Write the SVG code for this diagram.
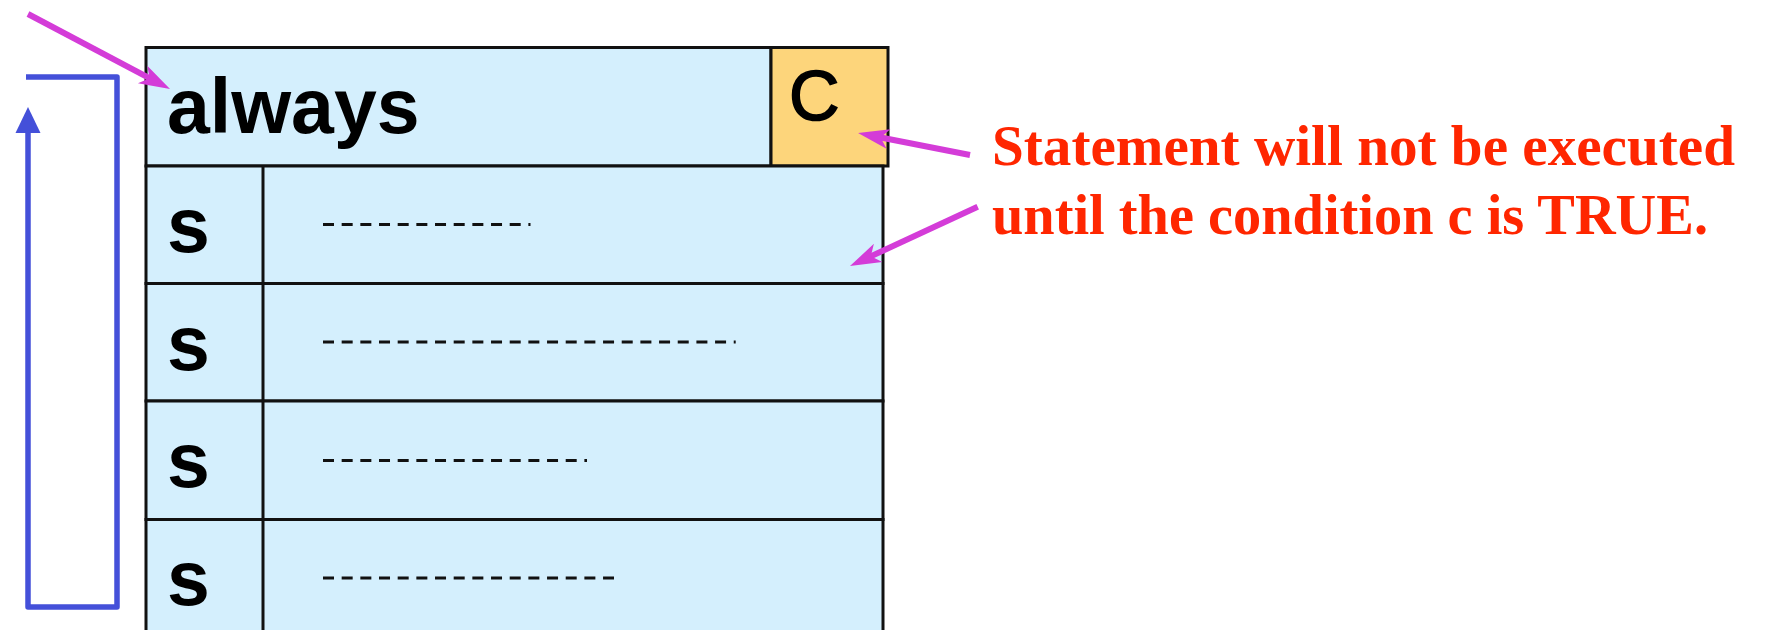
<svg xmlns="http://www.w3.org/2000/svg" width="1771" height="630" viewBox="0 0 1771 630">
<style>
.cell{fill:#d4effd;stroke:#111;stroke-width:3}
.cbox{fill:#fdd57b;stroke:#111;stroke-width:3}
.kw{font-family:"Liberation Sans",Arial,sans-serif;font-weight:bold;font-size:77px;fill:#000}
.cnd{font-family:"Liberation Sans",Arial,sans-serif;font-size:70px;fill:#000;stroke:#000;stroke-width:1.6}
.dash{stroke:#111;stroke-width:3;stroke-dasharray:11 7.67;fill:none}
.note{font-family:"Liberation Serif","Times New Roman",serif;font-weight:bold;font-size:56px;fill:#ff2600}
.mag{stroke:#d43cd8;stroke-width:6;fill:none;marker-end:url(#mh)}
.loop{stroke:#4450d9;stroke-width:5.5;fill:none;stroke-linejoin:round}
</style>
<defs>
<marker id="mh" markerUnits="userSpaceOnUse" viewBox="-15 -12 36 24" markerWidth="36" markerHeight="24" refX="0" refY="0" orient="auto" overflow="visible">
<path d="M18,0 L-13,-10 L-5,0 L-13,10 Z" fill="#d43cd8"/>
</marker>
</defs>
<g id="header">
<rect class="cell" x="146" y="47.5" width="625" height="118.5"/>
<text class="kw" x="167" y="133">always</text>
</g>
<g id="cond">
<rect class="cbox" x="771" y="47.5" width="117" height="118.5"/>
<text class="cnd" x="789" y="120">C</text>
</g>
<g id="row1">
<rect class="cell" x="146" y="166" width="737" height="117.5"/>
<line x1="263" y1="166" x2="263" y2="283.5" stroke="#111" stroke-width="3"/>
<text class="kw" x="167" y="252">s</text>
<line class="dash" x1="323" y1="224.5" x2="530.5" y2="224.5"/>
</g>
<g id="row2">
<rect class="cell" x="146" y="283.5" width="737" height="117.5"/>
<line x1="263" y1="283.5" x2="263" y2="401" stroke="#111" stroke-width="3"/>
<text class="kw" x="167" y="369.5">s</text>
<line class="dash" x1="323" y1="342" x2="735.7" y2="342"/>
</g>
<g id="row3">
<rect class="cell" x="146" y="401" width="737" height="118.5"/>
<line x1="263" y1="401" x2="263" y2="519.5" stroke="#111" stroke-width="3"/>
<text class="kw" x="167" y="487">s</text>
<line class="dash" x1="323" y1="460.5" x2="587" y2="460.5"/>
</g>
<g id="row4">
<rect class="cell" x="146" y="519.5" width="737" height="118.5"/>
<line x1="263" y1="519.5" x2="263" y2="640" stroke="#111" stroke-width="3"/>
<text class="kw" x="167" y="605">s</text>
<line class="dash" x1="323" y1="578" x2="614" y2="578"/>
</g>
<g id="note">
<text class="note" x="992" y="164.5" textLength="743" lengthAdjust="spacingAndGlyphs">Statement will not be executed</text>
<text class="note" x="992" y="233.5" textLength="716" lengthAdjust="spacingAndGlyphs">until the condition c is TRUE.</text>
</g>
<g id="connectors">
<path class="loop" d="M26,77 L117,77 L117,607 L28,607 L28,128"/>
<polygon points="28,107 15.5,133 40.5,133" fill="#4450d9"/>
<line class="mag" x1="28" y1="14" x2="154.1" y2="80.6"/>
<line class="mag" x1="970" y1="155" x2="875.7" y2="136.5"/>
<line class="mag" x1="977.7" y1="206.7" x2="866.3" y2="258.4"/>
</g>
</svg>
